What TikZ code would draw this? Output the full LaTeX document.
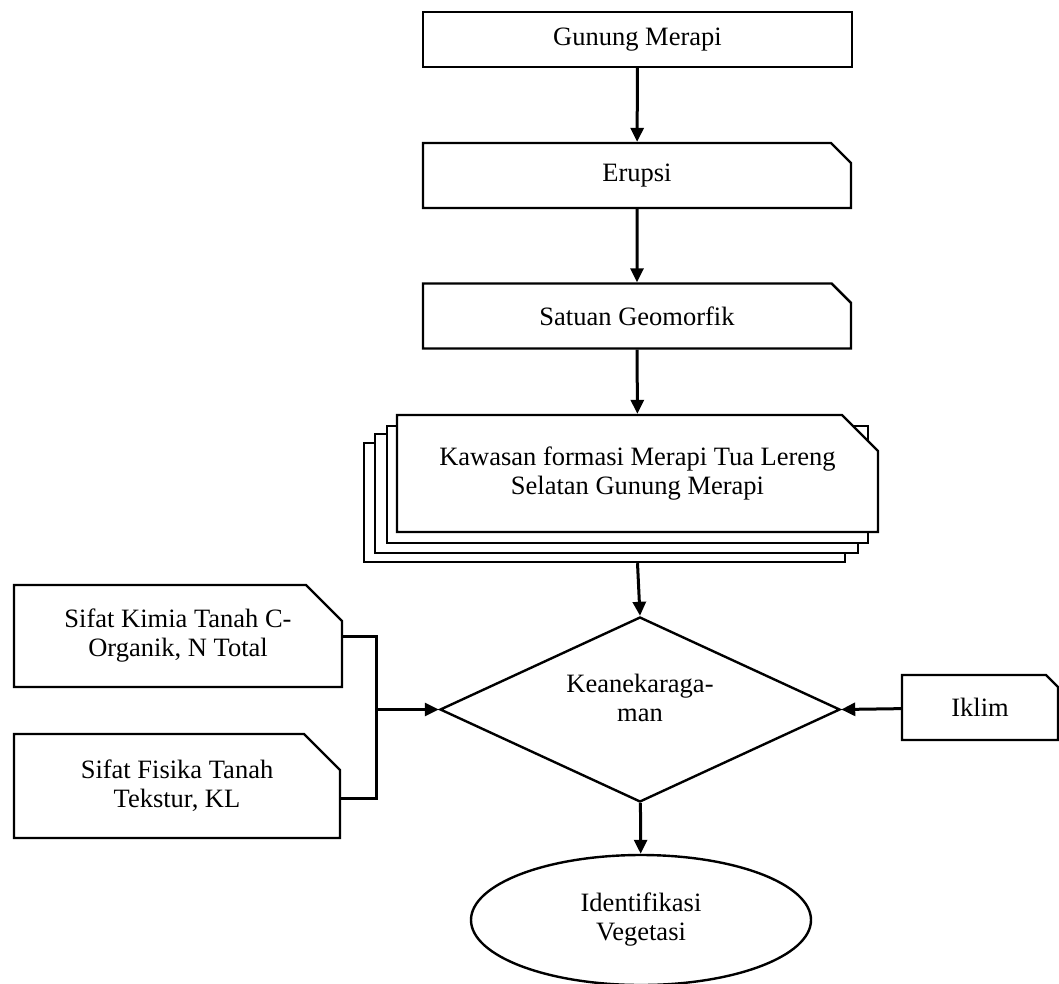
\documentclass[tikz,border=0pt]{standalone}
\usepackage{fontspec}
\setmainfont{Liberation Serif}
\usetikzlibrary{shapes.geometric,shapes.misc,arrows.meta}
\tikzset{
  box/.style={draw,line width=2.4pt,fill=white,align=center,inner sep=0pt},
  card/.style={box,chamfered rectangle,chamfered rectangle corners=north east,
    chamfered rectangle xsep=#1,chamfered rectangle ysep=#1},
  card/.default=18pt,
  flow/.style={line width=3pt,-{Triangle[length=14pt,width=13pt]}},
  link/.style={line width=3pt}
}
\begin{document}
\begin{tikzpicture}[x=1pt,y=-1pt,every node/.style={font=\fontsize{26.5}{29}\selectfont}]
\useasboundingbox (0,0) rectangle (1059,984);
% main column
\node[box,minimum width=429pt,minimum height=55pt] (gunung) at (637.5,39.5) {Gunung Merapi};
\node[card=10pt,minimum width=428pt,minimum height=65pt] (erupsi) at (637,175.5) {Erupsi};
\node[card=10pt,minimum width=428pt,minimum height=65pt] (satuan) at (637,316) {Satuan Geomorfik};
\node[box,minimum width=481pt,minimum height=119pt] (kws3) at (604.5,502.5) {};
\node[box,minimum width=483pt,minimum height=119pt] (kws2) at (616.5,493.5) {};
\node[box,minimum width=481pt,minimum height=117pt] (kws1) at (627.5,484.5) {};
\node[card,minimum width=481pt,minimum height=117pt] (kawasan) at (637.5,473.5) {Kawasan formasi Merapi Tua Lereng\\Selatan Gunung Merapi};
\node[box,diamond,aspect=2.16,minimum width=400pt,minimum height=185pt] (keaneka) at (640,709.5) {};
\node[align=center] (keanekatext) at ([yshift=12pt]keaneka.center) {Keanekaraga-\\man};
\node[box,ellipse,minimum width=340pt,minimum height=130pt] (identifikasi) at (641,920) {Identifikasi\\Vegetasi};
% side inputs
\node[card,minimum width=328pt,minimum height=102pt] (kimia) at (178,636) {Sifat Kimia Tanah C-\\Organik, N Total};
\node[card,minimum width=326pt,minimum height=104pt] (fisika) at (177,786) {Sifat Fisika Tanah\\Tekstur, KL};
\node[card=6pt,minimum width=156pt,minimum height=65pt] (iklim) at (980,707.5) {Iklim};
\coordinate (join) at (376,709.5);
% connectors
\draw[flow] (gunung) -- (erupsi);
\draw[flow] (erupsi) -- (satuan);
\draw[flow] (satuan) -- (kawasan);
\draw[flow] (kawasan.south |- kws3.south) -- (keaneka.north);
\draw[flow] (keaneka) -- (identifikasi);
\draw[link] (kimia.east) -| (join) |- ([yshift=-12pt]fisika.east);
\draw[flow] (join) -- (keaneka.west);
\draw[flow] (iklim) -- (keaneka.east);
\end{tikzpicture}
\end{document}
